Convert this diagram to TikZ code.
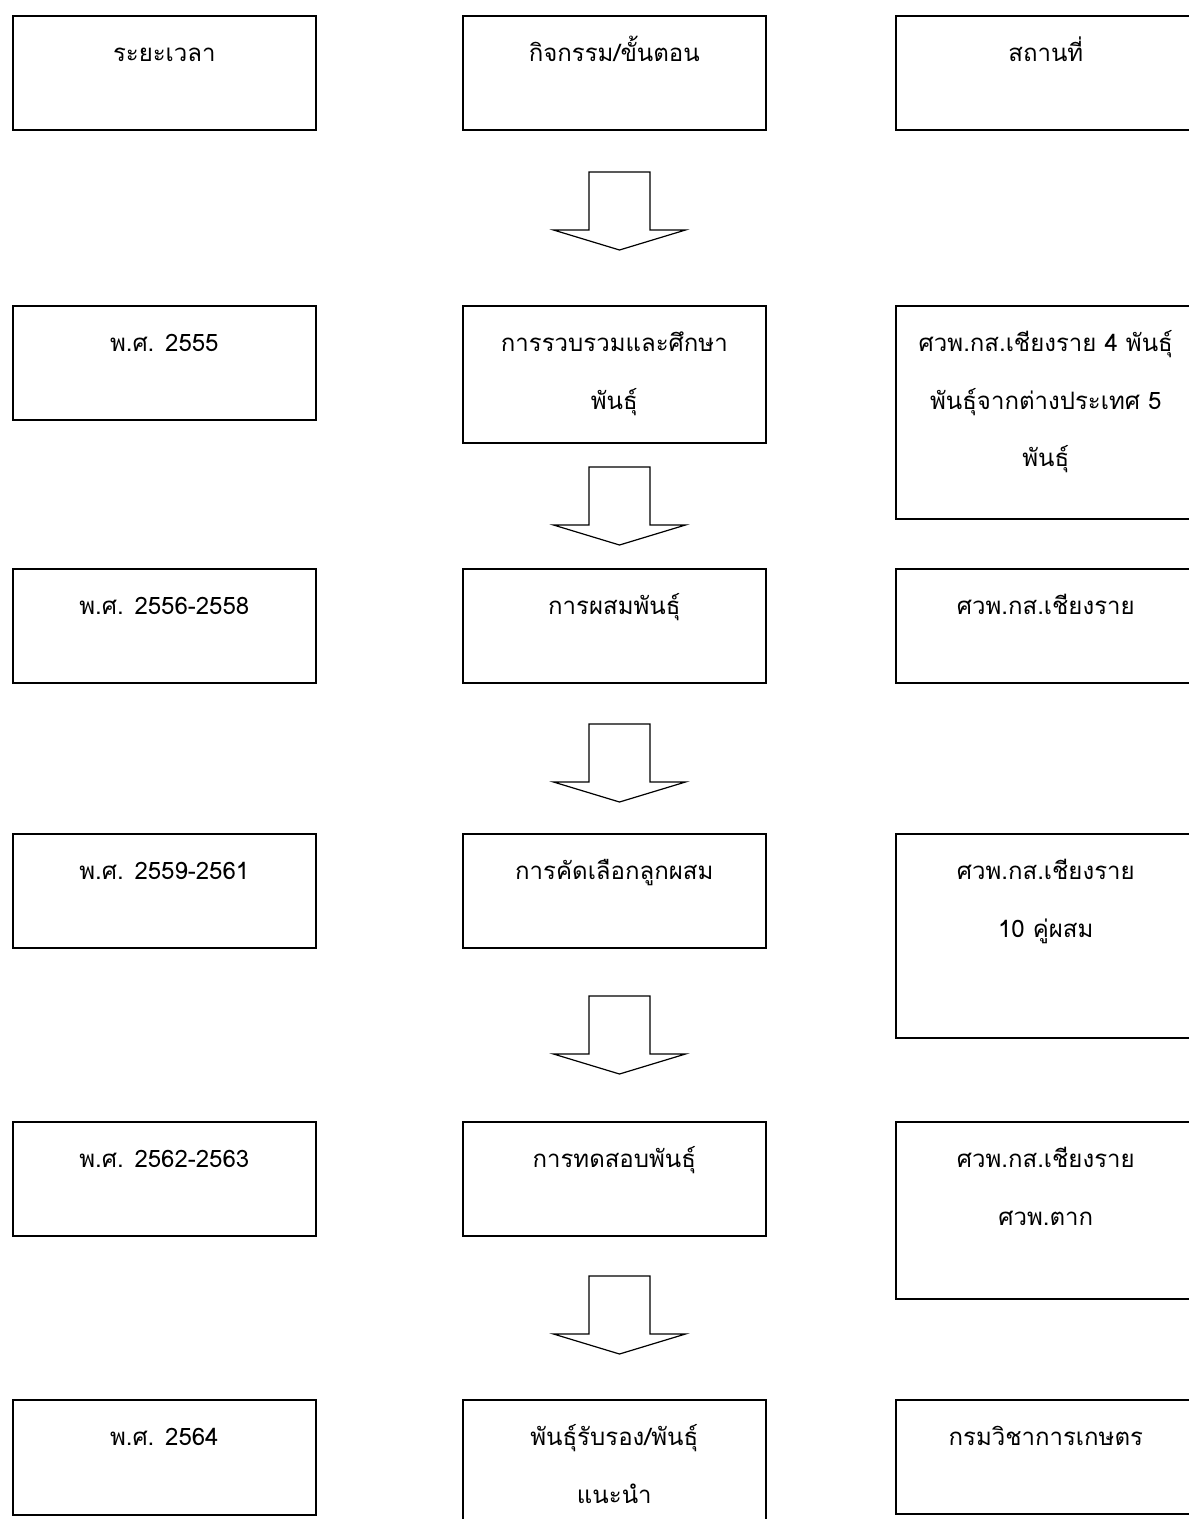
\documentclass[tikz,border=0pt]{standalone}
\usepackage{fontspec}
\newfontfamily\thai[Script=Thai]{Loma}
\begin{document}
\begin{tikzpicture}[x=1pt,y=-1pt,
  box/.style={draw, line width=1.6pt, inner sep=0pt, anchor=north west, minimum width=303pt},
  lbl/.style={anchor=north, inner sep=0pt, align=center, font=\thai\fontsize{24}{57.5}\selectfont},
  bigarrow/.style={draw, line width=1.2pt, fill=white, line join=miter},
  fatarrow/.pic={\draw[bigarrow] (-30.5,0) -- (30.5,0) -- (30.5,58) -- (66,58) -- (0,78) -- (-66,58) -- (-30.5,58) -- cycle;}]
\useasboundingbox (0,0) rectangle (1189,1519);
\clip (0,0) rectangle (1189,1519);
\newcommand\st{\rule{0pt}{30pt}}
% row 0
\node[box, minimum height=114pt] (l0) at (12,15) {};
\node[box, minimum height=114pt] (m0) at (462,15) {};
\node[box, minimum height=114pt, minimum width=300pt] (r0) at (895,15) {};
\node[lbl] (tl0) at ([yshift=-16.5pt]l0.north) {\st ระยะเวลา};
\node[lbl] (tm0) at ([yshift=-16.5pt]m0.north) {\st กิจกรรม/ขั้นตอน};
\node[lbl] (tr0) at ([yshift=-16.5pt]r0.north) {\st สถานที่};
% row 1
\node[box, minimum height=114pt] (l1) at (12,305) {};
\node[box, minimum height=137pt] (m1) at (462,305) {};
\node[box, minimum height=213pt, minimum width=300pt] (r1) at (895,305) {};
\node[lbl] (tl1) at ([yshift=-16.5pt]l1.north) {\st พ.ศ. 2555};
\node[lbl] (tm1) at ([yshift=-16.5pt]m1.north) {\st การรวบรวมและศึกษา\\พันธุ์};
\node[lbl] (tr1) at ([yshift=-16.5pt]r1.north) {\st ศวพ.กส.เชียงราย 4 พันธุ์\\พันธุ์จากต่างประเทศ 5\\พันธุ์};
% row 2
\node[box, minimum height=114pt] (l2) at (12,568) {};
\node[box, minimum height=114pt] (m2) at (462,568) {};
\node[box, minimum height=114pt, minimum width=300pt] (r2) at (895,568) {};
\node[lbl] (tl2) at ([yshift=-16.5pt]l2.north) {\st พ.ศ. 2556-2558};
\node[lbl] (tm2) at ([yshift=-16.5pt]m2.north) {\st การผสมพันธุ์};
\node[lbl] (tr2) at ([yshift=-16.5pt]r2.north) {\st ศวพ.กส.เชียงราย};
% row 3
\node[box, minimum height=114pt] (l3) at (12,833) {};
\node[box, minimum height=114pt] (m3) at (462,833) {};
\node[box, minimum height=204pt, minimum width=300pt] (r3) at (895,833) {};
\node[lbl] (tl3) at ([yshift=-16.5pt]l3.north) {\st พ.ศ. 2559-2561};
\node[lbl] (tm3) at ([yshift=-16.5pt]m3.north) {\st การคัดเลือกลูกผสม};
\node[lbl] (tr3) at ([yshift=-16.5pt]r3.north) {\st ศวพ.กส.เชียงราย\\10 คู่ผสม};
% row 4
\node[box, minimum height=114pt] (l4) at (12,1121) {};
\node[box, minimum height=114pt] (m4) at (462,1121) {};
\node[box, minimum height=177pt, minimum width=300pt] (r4) at (895,1121) {};
\node[lbl] (tl4) at ([yshift=-16.5pt]l4.north) {\st พ.ศ. 2562-2563};
\node[lbl] (tm4) at ([yshift=-16.5pt]m4.north) {\st การทดสอบพันธุ์};
\node[lbl] (tr4) at ([yshift=-16.5pt]r4.north) {\st ศวพ.กส.เชียงราย\\ศวพ.ตาก};
% row 5
\node[box, minimum height=115pt] (l5) at (12,1399) {};
\node[box, minimum height=140pt] (m5) at (462,1399) {};
\node[box, minimum height=114pt, minimum width=300pt] (r5) at (895,1399) {};
\node[lbl] (tl5) at ([yshift=-16.5pt]l5.north) {\st พ.ศ. 2564};
\node[lbl] (tm5) at ([yshift=-16.5pt]m5.north) {\st พันธุ์รับรอง/พันธุ์\\แนะนำ};
\node[lbl] (tr5) at ([yshift=-16.5pt]r5.north) {\st กรมวิชาการเกษตร};
% arrows
\coordinate (a1) at (619.5,172);
\coordinate (a2) at (619.5,467);
\coordinate (a3) at (619.5,724);
\coordinate (a4) at (619.5,996);
\coordinate (a5) at (619.5,1276);
\pic at (a1) {fatarrow};
\pic at (a2) {fatarrow};
\pic at (a3) {fatarrow};
\pic at (a4) {fatarrow};
\pic at (a5) {fatarrow};
\end{tikzpicture}
\end{document}
